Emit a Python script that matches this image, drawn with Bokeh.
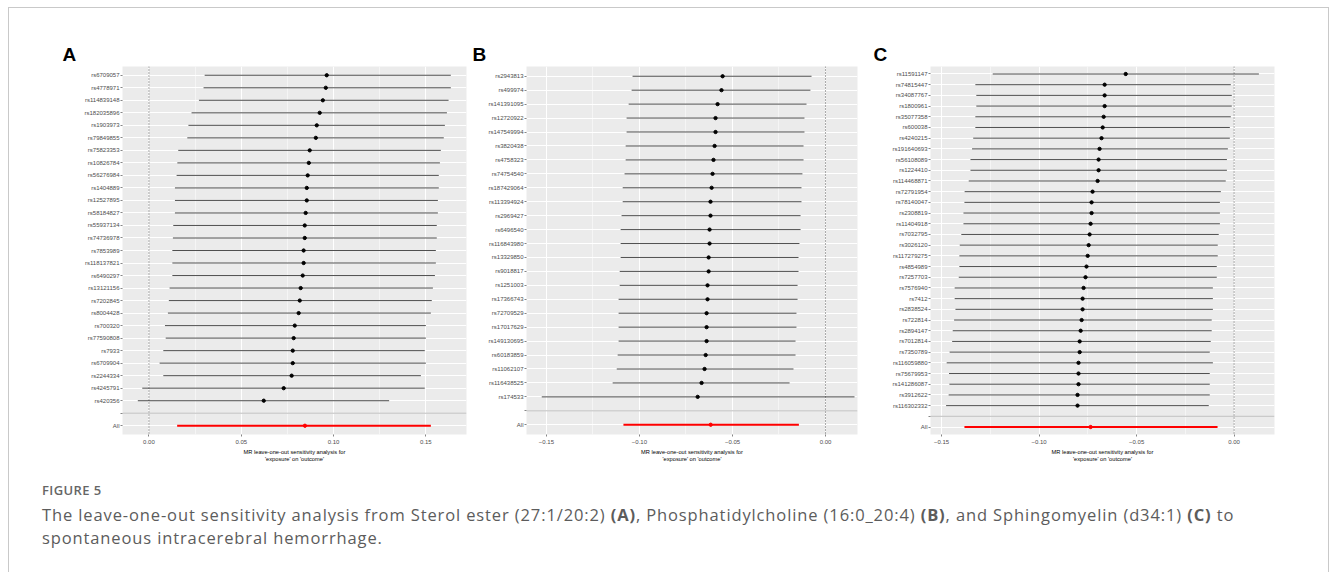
from bokeh.plotting import figure
from bokeh.layouts import row, column
from bokeh.models import Range1d, FactorRange, FixedTicker, CustomJSTickFormatter, Span, Div
from bokeh.embed import file_html
from bokeh.resources import INLINE

# ---------------- Panel A : Sterol ester (27:1/20:2) ----------------
A_snps = ["rs6709057", "rs4778971", "rs114839148", "rs182035896", "rs1903973", "rs79849855",
          "rs75823353", "rs10826784", "rs56276984", "rs1404889", "rs12527895", "rs58184827",
          "rs55937134", "rs74736978", "rs7853989", "rs118137821", "rs6490297", "rs13121156",
          "rs7202845", "rs8004428", "rs700320", "rs77590808", "rs7933", "rs6709904",
          "rs2244334", "rs4245791", "rs420356"]
A_b = [0.0963, 0.0958, 0.0942, 0.0925, 0.0909, 0.0904, 0.0871, 0.0866, 0.0860, 0.0855, 0.0855,
       0.0849, 0.0844, 0.0844, 0.0838, 0.0838, 0.0833, 0.0822, 0.0817, 0.0811, 0.0790, 0.0784,
       0.0779, 0.0779, 0.0773, 0.0730, 0.0622]
A_lo = [0.0302, 0.0296, 0.0271, 0.0231, 0.0214, 0.0208, 0.0159, 0.0154, 0.0150, 0.0141, 0.0141,
        0.0141, 0.0132, 0.0130, 0.0127, 0.0127, 0.0127, 0.0112, 0.0108, 0.0103, 0.0087, 0.0091,
        0.0078, 0.0058, 0.0078, -0.0036, -0.0060]
A_up = [0.1635, 0.1635, 0.1623, 0.1614, 0.1603, 0.1597, 0.1581, 0.1576, 0.1570, 0.1570, 0.1565,
        0.1565, 0.1559, 0.1559, 0.1554, 0.1554, 0.1549, 0.1538, 0.1532, 0.1527, 0.1500, 0.1500,
        0.1494, 0.1500, 0.1473, 0.1494, 0.1301]
A_all = [0.0845, 0.0153, 0.1527]   # b, lo, up
A_xlim = [-0.0143, 0.172]
A_ticks = [0.00, 0.05, 0.10, 0.15]
A_minor = [0.025, 0.075, 0.125]

# ---------------- Panel B : Phosphatidylcholine (16:0_20:4) ----------------
B_snps = ["rs2943813", "rs499974", "rs141391095", "rs12720922", "rs147549994", "rs3820438",
          "rs4758323", "rs74754540", "rs187429064", "rs113394924", "rs2969427", "rs6496540",
          "rs116843980", "rs13329850", "rs9018817", "rs1251003", "rs17366743", "rs72709529",
          "rs17017629", "rs149130695", "rs60183859", "rs11062107", "rs116438525", "rs174533"]
B_b = [-0.0553, -0.0559, -0.0580, -0.0591, -0.0591, -0.0596, -0.0602, -0.0607, -0.0612, -0.0618,
       -0.0618, -0.0623, -0.0623, -0.0628, -0.0628, -0.0634, -0.0634, -0.0639, -0.0639, -0.0639,
       -0.0644, -0.0650, -0.0666, -0.0687]
B_lo = [-0.1037, -0.1042, -0.1058, -0.1069, -0.1069, -0.1074, -0.1074, -0.1080, -0.1090, -0.1090,
        -0.1096, -0.1101, -0.1101, -0.1101, -0.1106, -0.1106, -0.1112, -0.1112, -0.1112, -0.1112,
        -0.1117, -0.1122, -0.1144, -0.1525]
B_up = [-0.0075, -0.0081, -0.0102, -0.0113, -0.0113, -0.0118, -0.0118, -0.0124, -0.0129, -0.0129,
        -0.0134, -0.0134, -0.0140, -0.0145, -0.0145, -0.0150, -0.0150, -0.0156, -0.0156, -0.0161,
        -0.0161, -0.0172, -0.0193, 0.0156]
B_all = [-0.0617, -0.1086, -0.0143]
B_xlim = [-0.1607, 0.0172]
B_ticks = [-0.15, -0.10, -0.05, 0.00]
B_minor = [-0.125, -0.075, -0.025]

# ---------------- Panel C : Sphingomyelin (d34:1) ----------------
C_snps = ["rs11591147", "rs74815447", "rs34087767", "rs1800961", "rs35077358", "rs600038",
          "rs4240215", "rs191640693", "rs56108089", "rs1224410", "rs114468871", "rs72791954",
          "rs78140047", "rs2308819", "rs11404918", "rs7032795", "rs3026120", "rs117279275",
          "rs4854989", "rs7257703", "rs7576940", "rs7412", "rs2838524", "rs722814",
          "rs2894147", "rs7012814", "rs7350789", "rs116059880", "rs75679953", "rs141286087",
          "rs3912622", "rs116302332"]
C_b = [-0.0556, -0.0664, -0.0664, -0.0664, -0.0669, -0.0674, -0.0680, -0.0690, -0.0695, -0.0695,
       -0.0700, -0.0726, -0.0731, -0.0731, -0.0736, -0.0741, -0.0746, -0.0751, -0.0757, -0.0762,
       -0.0772, -0.0777, -0.0777, -0.0782, -0.0787, -0.0792, -0.0792, -0.0798, -0.0798, -0.0798,
       -0.0803, -0.0803]
C_lo = [-0.1238, -0.1327, -0.1322, -0.1322, -0.1327, -0.1327, -0.1338, -0.1344, -0.1352, -0.1352,
        -0.1361, -0.1382, -0.1383, -0.1388, -0.1388, -0.1399, -0.1407, -0.1409, -0.1409, -0.1412,
        -0.1433, -0.1433, -0.1429, -0.1436, -0.1443, -0.1446, -0.1459, -0.1474, -0.1462, -0.1460,
        -0.1464, -0.1477]
C_up = [0.0127, -0.0017, -0.0012, -0.0012, -0.0017, -0.0022, -0.0022, -0.0032, -0.0037, -0.0037,
        -0.0043, -0.0068, -0.0073, -0.0073, -0.0073, -0.0079, -0.0084, -0.0084, -0.0089, -0.0089,
        -0.0109, -0.0109, -0.0109, -0.0115, -0.0115, -0.0120, -0.0125, -0.0109, -0.0125, -0.0125,
        -0.0125, -0.0130]
C_all = [-0.0736, -0.1383, -0.0085]
C_xlim = [-0.1557, 0.0207]
C_ticks = [-0.15, -0.10, -0.05, 0.00]
C_minor = [-0.125, -0.075, -0.025]

X_TITLE = "MR leave-one-out sensitivity analysis for\n'exposure' on 'outcome'"
FONT = "Liberation Sans"


def make_panel(label, snps, b, lo, up, allv, xlim, ticks, minor, width, bl, br, label_off):
    factors = ["All", " "] + snps[::-1]
    p = figure(width=width, height=456, title=label,
               x_range=Range1d(xlim[0], xlim[1]),
               y_range=FactorRange(factors=factors, range_padding=0.2,
                                   range_padding_units="absolute"),
               output_backend="svg", toolbar_location=None,
               min_border_left=bl, min_border_right=br,
               min_border_top=58, min_border_bottom=30)
    p.background_fill_color = "#EBEBEB"
    p.border_fill_color = "white"
    p.outline_line_color = None

    p.title.align = "left"
    p.title.offset = label_off
    p.title.text_font = FONT
    p.title.text_font_size = "19px"
    p.title.text_font_style = "bold"
    p.title.text_color = "black"
    p.title.standoff = 3

    p.xgrid.grid_line_color = "white"
    p.xgrid.grid_line_width = 1
    p.xgrid.minor_grid_line_color = "white"
    p.xgrid.minor_grid_line_width = 0.5
    p.ygrid.grid_line_color = "white"
    p.ygrid.grid_line_width = 1

    p.xaxis.ticker = FixedTicker(ticks=ticks, minor_ticks=minor)
    p.xaxis.formatter = CustomJSTickFormatter(
        code="return (tick < -1e-9 ? '\\u2212' : '') + Math.abs(tick).toFixed(2);")
    for ax in (p.xaxis, p.yaxis):
        ax.axis_line_color = None
        ax.major_tick_line_color = "#333333"
        ax.major_tick_line_width = 0.6
        ax.major_tick_out = 2
        ax.major_tick_in = 0
        ax.minor_tick_line_color = None
        ax.major_label_text_font = FONT
        ax.major_label_text_font_size = "6px"
        ax.major_label_text_color = "#4D4D4D"
        ax.major_label_standoff = 1
    p.xaxis.axis_label = X_TITLE
    p.xaxis.axis_label_text_font = FONT
    p.xaxis.axis_label_text_font_size = "5.7px"
    p.xaxis.axis_label_text_font_style = "normal"
    p.xaxis.axis_label_text_color = "black"
    p.xaxis.axis_label_standoff = 2

    p.add_layout(Span(location=0, dimension="height", line_color="#444444",
                      line_width=0.9, line_dash="1 2", level="underlay"))
    p.segment(x0=[xlim[0]], x1=[xlim[1]], y0=[" "], y1=[" "],
              line_color="#BEBEBE", line_width=1)
    p.segment(x0=lo, x1=up, y0=snps, y1=snps, line_color="#222222", line_width=0.8)
    p.scatter(x=b, y=snps, size=3.3, color="black")
    p.segment(x0=[allv[1]], x1=[allv[2]], y0=["All"], y1=["All"],
              line_color="red", line_width=2)
    p.scatter(x=[allv[0]], y=["All"], size=3.3, color="red")
    return p


pA = make_panel("A", A_snps, A_b, A_lo, A_up, A_all, A_xlim, A_ticks, A_minor, 428, 82, 2, -60)
pB = make_panel("B", B_snps, B_b, B_lo, B_up, B_all, B_xlim, B_ticks, B_minor, 399, 58, 10, -54)
pC = make_panel("C", C_snps, C_b, C_lo, C_up, C_all, C_xlim, C_ticks, C_minor, 433, 63, 26, -57)

caption = Div(text=(
    "<div style=\"font-family:'Open Sans'; color:#5c5c5c;\">"
    "<div style='font-size:13px; line-height:16px; font-weight:600; letter-spacing:0.4px; color:#666666;'>FIGURE 5</div>"
    "<div style='font-size:16.5px; line-height:23px; margin-top:5px; letter-spacing:0.88px; white-space:nowrap;'>"
    "The leave-one-out sensitivity analysis from Sterol ester (27:1/20:2) <b>(A)</b>, "
    "Phosphatidylcholine (16:0_20:4) <b>(B)</b>, and Sphingomyelin (d34:1) <b>(C)</b> to<br>"
    "spontaneous intracerebral hemorrhage.</div></div>"),
    width=1270, height=90, margin=(18, 0, 0, 33))

panels = row(pA, pB, pC, margin=(0, 0, 0, 31))
layout = column(panels, caption, width=1321, height=600, margin=(7, 0, 0, 8),
                styles={"border": "1px solid #c9c9c9", "border-bottom": "none"})

open("out.html", "w").write(file_html(layout, INLINE))
